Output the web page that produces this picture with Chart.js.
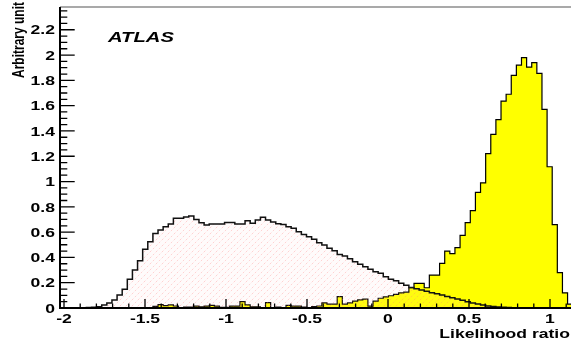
<!DOCTYPE html>
<html>
<head>
<meta charset="utf-8">
<title>Likelihood ratio</title>
<script src="https://cdn.jsdelivr.net/npm/chart.js@4.4.0/dist/chart.umd.min.js"></script>
<style>
  html, body { margin: 0; padding: 0; background: #fff; }
  #chartLikelihood { display: block; }
</style>
</head>
<body>
<canvas id="chartLikelihood" width="571" height="347"></canvas>
<script>
// Binning of both histograms (100 bins)
const binStart = -2.02;
const binWidth = 0.0316;

// Background histogram (hatched pink), one value per bin
const backgroundValues = [
  0, 0, 0, 0, 0, 0.003, 0.005, 0.01, 0.024, 0.04,
  0.063, 0.103, 0.148, 0.227, 0.30, 0.374, 0.464, 0.524, 0.59, 0.617,
  0.643, 0.664, 0.709, 0.709, 0.72, 0.727, 0.70, 0.674, 0.656, 0.664,
  0.664, 0.664, 0.677, 0.677, 0.664, 0.664, 0.69, 0.67, 0.695, 0.717,
  0.695, 0.68, 0.667, 0.66, 0.643, 0.63, 0.603, 0.582, 0.564, 0.543,
  0.516, 0.498, 0.472, 0.453, 0.424, 0.411, 0.39, 0.366, 0.345, 0.326,
  0.306, 0.287, 0.274, 0.248, 0.227, 0.216, 0.195, 0.179, 0.163, 0.153,
  0.142, 0.132, 0.121, 0.113, 0.103, 0.09, 0.082, 0.071, 0.061, 0.05,
  0.04, 0.032, 0.024, 0.016, 0.011, 0.008, 0.005, 0.003, 0.002, 0,
  0, 0, 0, 0, 0, 0, 0, 0, 0, 0
];

// Signal histogram (yellow), one value per bin
const signalValues = [
  0, 0, 0, 0, 0, 0, 0, 0, 0, 0,
  0, 0, 0, 0, 0, 0, 0, 0, 0.013, 0.026,
  0.018, 0.024, 0.016, 0.003, 0.008, 0.008, 0.015, 0.01, 0.015, 0.02,
  0.015, 0.005, 0.005, 0.015, 0.015, 0.05, 0.025, 0.01, 0.01, 0.002,
  0.042, 0, 0.008, 0.003, 0.02, 0.015, 0.015, 0.008, 0.003, 0.012,
  0.016, 0.04, 0.03, 0.03, 0.09, 0.03, 0.04, 0.055, 0.065, 0.07,
  0.015, 0.055, 0.077, 0.088, 0.097, 0.108, 0.12, 0.125, 0.16, 0.195,
  0.195, 0.16, 0.26, 0.26, 0.353, 0.45, 0.43, 0.477, 0.575, 0.675,
  0.77, 0.915, 0.99, 1.22, 1.373, 1.49, 1.636, 1.69, 1.84, 1.92,
  1.98, 1.905, 1.94, 1.855, 1.57, 1.117, 0.66, 0.28, 0.12, 0.03
];

// Axis ticks and labels
const xTickValues = [-2, -1.5, -1, -0.5, 0, 0.5, 1];
const xTickLabels = ['-2', '-1.5', '-1', '-0.5', '0', '0.5', '1'];
const yTickValues = [0, 0.2, 0.4, 0.6, 0.8, 1, 1.2, 1.4, 1.6, 1.8, 2, 2.2];
const yTickLabels = ['0', '0.2', '0.4', '0.6', '0.8', '1', '1.2', '1.4', '1.6', '1.8', '2', '2.2'];

const xTitle = 'Likelihood ratio';
const yTitle = 'Arbitrary unit';
const labelText = 'ATLAS';

// Text in the original is stretched horizontally
const FONT = '"Liberation Sans", Arial, sans-serif';
const STRETCH = 1.35;

/**
 * Builds stepped points (left edge of each bin) for a histogram
 */
function histPoints(values) {
  const pts = values.map((v, i) => ({ x: binStart + i * binWidth, y: v }));
  pts.push({ x: binStart + values.length * binWidth, y: 0 });
  return pts;
}

/**
 * Pink diagonal hatch for the background histogram
 */
function makeHatch() {
  const c = document.createElement('canvas');
  c.width = 6;
  c.height = 6;
  const g = c.getContext('2d');
  g.fillStyle = 'rgba(255,200,200,0.08)';
  g.fillRect(0, 0, 6, 6);
  g.strokeStyle = 'rgba(255,120,120,0.32)';
  g.lineWidth = 1;
  g.setLineDash([2, 2]);
  g.beginPath();
  g.moveTo(0, 6);
  g.lineTo(6, 0);
  g.stroke();
  return g.createPattern(c, 'repeat');
}

function drawText(ctx, str, x, y, align, font) {
  ctx.save();
  ctx.translate(x, y);
  ctx.scale(STRETCH, 1);
  ctx.font = font;
  ctx.textAlign = align;
  ctx.textBaseline = 'alphabetic';
  ctx.fillStyle = '#000';
  ctx.fillText(str, 0, 0);
  ctx.restore();
}

// ROOT style frame: inward ticks, labels, titles
const rootFramePlugin = {
  id: 'rootFrame',
  afterDatasetsDraw(chart) {
    const ctx = chart.ctx;
    const area = chart.chartArea;
    const xs = chart.scales.x;
    const ys = chart.scales.y;

    ctx.save();

    // top frame line
    ctx.strokeStyle = '#555';
    ctx.lineWidth = 1.2;
    ctx.beginPath();
    ctx.moveTo(area.left, area.top);
    ctx.lineTo(area.right, area.top);
    ctx.stroke();

    ctx.strokeStyle = '#000';
    ctx.lineWidth = 1.3;

    // x axis ticks (major 0.5, minor 0.1)
    ctx.beginPath();
    for (let k = -20; k <= 11; k++) {
      const v = k / 10;
      const px = xs.getPixelForValue(v);
      if (px < area.left || px > area.right) continue;
      const len = (k % 5 === 0) ? 9 : 4.5;
      ctx.moveTo(px, area.bottom);
      ctx.lineTo(px, area.bottom - len);
    }
    // y axis ticks (major 0.2, minor 0.05)
    for (let k = 0; k <= 47; k++) {
      const v = k * 0.05;
      const py = ys.getPixelForValue(v);
      if (py < area.top) continue;
      const len = (k % 4 === 0) ? 14.7 : 7.3;
      ctx.moveTo(area.left, py);
      ctx.lineTo(area.left + len, py);
    }
    ctx.stroke();

    // axis lines
    ctx.lineWidth = 2;
    ctx.beginPath();
    ctx.moveTo(area.left, area.top);
    ctx.lineTo(area.left, area.bottom);
    ctx.moveTo(area.left - 1, area.bottom);
    ctx.lineTo(area.right, area.bottom);
    ctx.stroke();

    // tick labels
    const tickFont = 'bold 13px ' + FONT;
    xTickValues.forEach((v, i) => {
      drawText(ctx, xTickLabels[i], xs.getPixelForValue(v), 322.7, 'center', tickFont);
    });
    yTickValues.forEach((v, i) => {
      drawText(ctx, yTickLabels[i], 55, ys.getPixelForValue(v) + 4.7, 'right', tickFont);
    });

    // axis titles
    drawText(ctx, xTitle, 439.3, 338.3, 'left', 'bold 13px ' + FONT);

    ctx.save();
    ctx.translate(24, 2);
    ctx.rotate(-Math.PI / 2);
    ctx.scale(1, STRETCH);
    ctx.font = 'bold 12px ' + FONT;
    ctx.textAlign = 'right';
    ctx.textBaseline = 'alphabetic';
    ctx.fillStyle = '#000';
    ctx.fillText(yTitle, 0, 0);
    ctx.restore();

    // ATLAS label
    drawText(ctx, labelText, 108, 41.7, 'left', 'italic bold 15px ' + FONT);

    ctx.restore();
  }
};

const chartCanvas = document.getElementById('chartLikelihood');
const chart = new Chart(chartCanvas.getContext('2d'), {
  type: 'line',
  data: {
    datasets: [
      {
        label: 'Background',
        data: histPoints(backgroundValues),
        stepped: 'before',
        borderColor: '#111',
        borderWidth: 1.5,
        backgroundColor: makeHatch(),
        fill: 'origin',
        pointRadius: 0,
        order: 0
      },
      {
        label: 'Signal',
        data: histPoints(signalValues),
        stepped: 'before',
        borderColor: '#000',
        borderWidth: 1.2,
        backgroundColor: '#ffff00',
        fill: 'origin',
        pointRadius: 0,
        order: 1
      }
    ]
  },
  options: {
    responsive: false,
    animation: false,
    devicePixelRatio: 1,
    layout: {
      padding: { left: 60, top: 7, right: 0, bottom: 39 }
    },
    plugins: {
      legend: { display: false },
      tooltip: { enabled: false }
    },
    scales: {
      x: {
        type: 'linear',
        display: false,
        min: -2.0247,
        max: 1.1296
      },
      y: {
        type: 'linear',
        display: false,
        min: 0,
        max: 2.38
      }
    }
  },
  plugins: [rootFramePlugin]
});
</script>
</body>
</html>
